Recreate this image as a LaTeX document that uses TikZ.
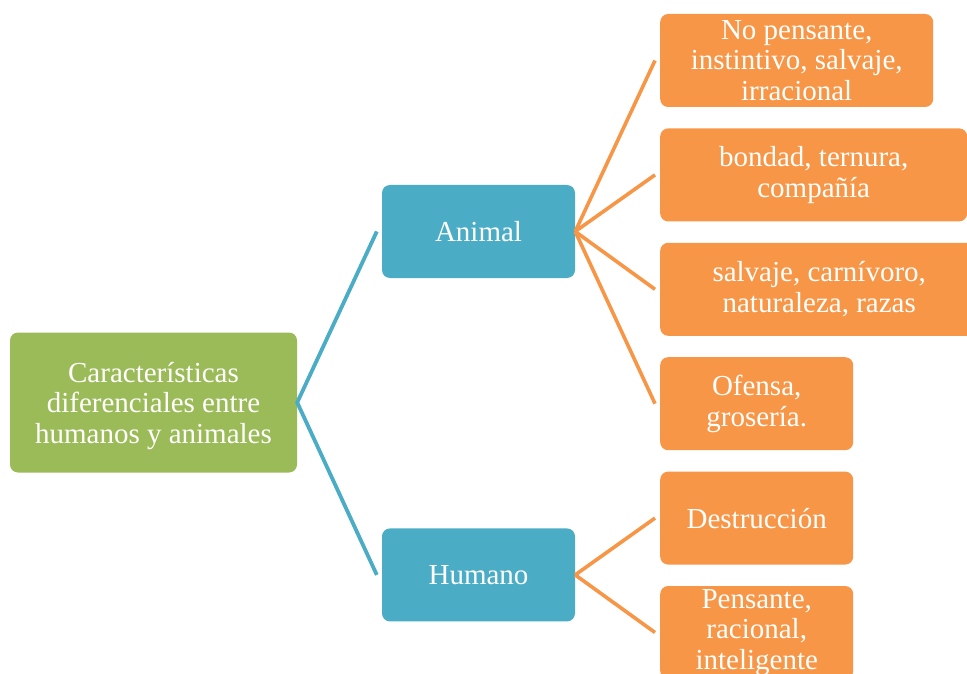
\documentclass[tikz,border=0pt]{standalone}
\usepackage{fontspec}
\setmainfont{Liberation Serif}
\usepackage{tikz}
\usetikzlibrary{positioning}
\definecolor{rootgreen}{HTML}{9BBB59}
\definecolor{midblue}{HTML}{4BACC6}
\definecolor{leaforange}{HTML}{F79646}
\tikzset{
box/.style={rounded corners=8pt, text=white, align=center, inner sep=0pt,
  minimum height=93pt, font=\fontsize{29}{30.5}\selectfont}, % common look of every box
root/.style={box, fill=rootgreen, minimum width=287pt, minimum height=140pt, text depth=0pt},
mid/.style={box, fill=midblue, minimum width=193pt},
leaf/.style={box, fill=leaforange, minimum width=193pt, anchor=west},
blueline/.style={draw=midblue, line width=3.8pt}, % connectors to the second level
orangeline/.style={draw=leaforange, line width=3.6pt}, % connectors to the leaves
}

\begin{document}
\begin{tikzpicture}[x=1pt, y=1pt]
    \useasboundingbox (0,0) rectangle (967,-674);

    \node[root] (car) at (153.5,-402.5) {Características\\diferenciales entre\\humanos y animales};
    \node[mid] (animal) at (478.5,-231.5) {Animal};
    \node[mid, below=250pt of animal] (humano) {Humano};

    \node[leaf, minimum width=273pt] (nopens) at (660,-60.5) {No pensante,\\instintivo, salvaje,\\irracional};
    \node[leaf, minimum width=307pt, below=21pt of nopens.south west, anchor=north west] (bondad) {bondad, ternura,\\compañía};
    \node[leaf, minimum width=318pt, below=21pt of bondad.south west, anchor=north west] (salvaje) {salvaje, carnívoro,\\naturaleza, razas};
    \node[leaf, below=21pt of salvaje.south west, anchor=north west] (ofensa) {Ofensa,\\grosería.};
    \node[leaf, below=21pt of ofensa.south west, anchor=north west] (destr) {Destrucción};
    \node[leaf, below=21pt of destr.south west, anchor=north west] (pens) {Pensante,\\racional,\\inteligente};

    \draw[blueline] ([xshift=-5pt]animal.west) -- (car.east) -- ([xshift=-5pt]humano.west);
    \foreach \leaf in {nopens, bondad, salvaje, ofensa}
        \draw[orangeline] (animal.east) -- ([xshift=-5pt]\leaf.west);
    \foreach \leaf in {destr, pens}
        \draw[orangeline] (humano.east) -- ([xshift=-5pt]\leaf.west);
\end{tikzpicture}
\end{document}
